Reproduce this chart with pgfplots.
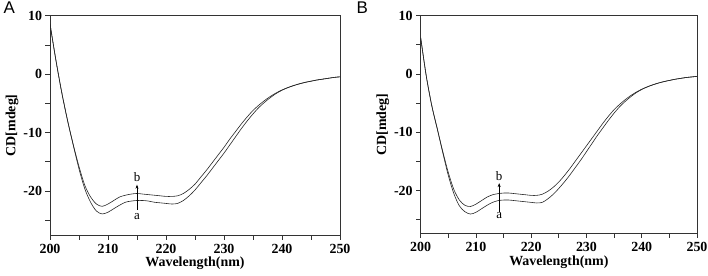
\documentclass[border=0pt]{standalone}
\usepackage{pgfplots}
\usepackage{pgfplotstable}
\pgfplotsset{compat=1.18}
\usetikzlibrary{arrows.meta}
\usepackage{fontspec}
\setmainfont{Liberation Serif}
\newfontfamily\panelfont{Liberation Sans}
\pgfplotstableread{
x b a
200 8.6 8.6
201 2.5 2.5
202 -3.0 -3.0
203 -7.8 -7.8
204 -12.0 -12.1
205 -15.8 -16.2
206 -19.0 -19.6
207 -21.0 -21.9
208 -22.2 -23.4
209 -22.6 -23.9
210 -22.2 -23.6
211 -21.6 -23.0
212 -21.0 -22.4
213 -20.7 -21.9
214 -20.5 -21.7
215 -20.4 -21.6
216 -20.5 -21.6
217 -20.6 -21.7
218 -20.7 -21.9
219 -20.8 -22.0
220 -20.9 -22.1
221 -20.9 -22.2
222 -20.8 -22.1
223 -20.4 -21.6
224 -19.7 -20.8
225 -18.8 -19.8
226 -17.6 -18.6
227 -16.4 -17.4
228 -15.1 -16.1
229 -13.8 -14.8
230 -12.5 -13.5
231 -11.1 -12.1
232 -9.8 -10.7
233 -8.5 -9.3
234 -7.3 -8.0
235 -6.2 -6.8
236 -5.3 -5.7
237 -4.5 -4.8
238 -3.8 -4.0
239 -3.2 -3.3
240 -2.7 -2.75
241 -2.3 -2.3
242 -1.95 -1.95
243 -1.65 -1.65
244 -1.4 -1.4
245 -1.2 -1.2
246 -1.0 -1.0
247 -0.85 -0.85
248 -0.7 -0.7
249 -0.55 -0.55
250 -0.45 -0.45
}\dataA
\pgfplotstableread{
x b a
200 6.2 6.2
201 -0.3 -0.3
202 -5.4 -5.4
203 -9.4 -9.4
204 -13.3 -13.5
205 -16.9 -17.4
206 -19.8 -20.5
207 -21.6 -22.6
208 -22.5 -23.6
209 -22.7 -24.0
210 -22.3 -23.7
211 -21.7 -23.1
212 -21.1 -22.5
213 -20.7 -22.0
214 -20.5 -21.7
215 -20.4 -21.6
216 -20.4 -21.6
217 -20.5 -21.7
218 -20.6 -21.8
219 -20.7 -21.9
220 -20.8 -22.0
221 -20.8 -22.1
222 -20.6 -22.0
223 -20.1 -21.4
224 -19.4 -20.6
225 -18.5 -19.6
226 -17.4 -18.5
227 -16.2 -17.3
228 -14.9 -16.0
229 -13.6 -14.7
230 -12.3 -13.3
231 -11.0 -11.9
232 -9.7 -10.5
233 -8.4 -9.2
234 -7.2 -7.9
235 -6.1 -6.7
236 -5.2 -5.6
237 -4.4 -4.7
238 -3.7 -3.9
239 -3.1 -3.2
240 -2.6 -2.65
241 -2.2 -2.2
242 -1.85 -1.85
243 -1.55 -1.55
244 -1.3 -1.3
245 -1.1 -1.1
246 -0.9 -0.9
247 -0.75 -0.75
248 -0.6 -0.6
249 -0.5 -0.5
250 -0.4 -0.4
}\dataB
\pgfplotsset{
  curve/.style={no marks, black!85, line width=0.6bp, smooth},
  cdstyle/.style={
    scale only axis,
    xmin=200, xmax=250, ymin=-27.5, ymax=10,
    xtick={200,210,...,250}, ytick={-20,-10,0,10},
    minor xtick={205,215,...,245}, minor ytick={-25,-15,-5,5},
    tick align=outside, major tick length=4.5bp, minor tick length=4.5bp,
    xtick pos=bottom, ytick pos=left,
    axis line style={black!80, line width=0.9bp},
    every tick/.style={black!80, line width=0.8bp},
    xticklabel={\pgfmathprintnumber[assume math mode=true]{\tick}},
    yticklabel={\pgfmathprintnumber[assume math mode=true]{\tick}},
    ticklabel style={font=\fontsize{14}{14}\selectfont\bfseries},
    label style={font=\fontsize{14}{14}\selectfont\bfseries},
    xticklabel style={yshift=-1bp},
    xlabel={Wavelength(nm)},
    ylabel={CD[mdeg]},
    xlabel style={yshift=3bp},
    ylabel style={yshift=-2bp},
  }
}
\begin{document}
\begin{tikzpicture}
\useasboundingbox (0,0) rectangle (708bp,276bp);
\begin{axis}[cdstyle, at={(50bp,41bp)}, anchor=south west, width=290bp, height=219.3bp]
\addplot[curve] table[x=x,y=b] {\dataA};
\addplot[curve] table[x=x,y=a] {\dataA};
\addplot[black, line width=0.5bp, -{Stealth[length=4bp,width=3bp]}, no marks] coordinates {(215,-23.2) (215,-18.9)};
\node[font=\fontsize{13}{13}\selectfont] at (axis cs:215,-17.6) {b};
\node[font=\fontsize{13}{13}\selectfont] at (axis cs:215,-24.3) {a};
\end{axis}
\node[font=\panelfont\fontsize{17}{17}\selectfont, anchor=north west] at (0bp,278bp) {A};
\begin{axis}[cdstyle, at={(420.7bp,42.7bp)}, anchor=south west, width=276.3bp, height=217.6bp, ymin=-27.3]
\addplot[curve] table[x=x,y=b] {\dataB};
\addplot[curve] table[x=x,y=a] {\dataB};
\addplot[black, line width=0.5bp, -{Stealth[length=4bp,width=3bp]}, no marks] coordinates {(214.2,-23.6) (214.2,-18.7)};
\node[font=\fontsize{13}{13}\selectfont] at (axis cs:214.2,-17.5) {b};
\node[font=\fontsize{13}{13}\selectfont] at (axis cs:214.2,-24.3) {a};
\end{axis}
\node[font=\panelfont\fontsize{17}{17}\selectfont, anchor=north west] at (353bp,278bp) {B};
\end{tikzpicture}
\end{document}
